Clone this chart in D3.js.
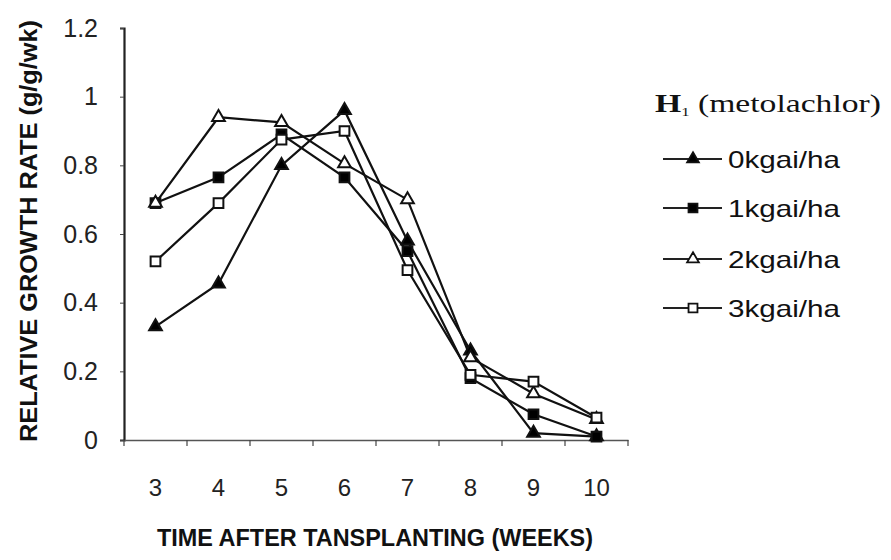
<!DOCTYPE html>
<html><head><meta charset="utf-8">
<script src="https://cdn.jsdelivr.net/npm/d3@7"></script>
<style>body{margin:0;background:#fff}svg{display:block}</style>
</head><body>
<script>
const weeks = ["3","4","5","6","7","8","9","10"];
const s0 = [0.33,0.455,0.80,0.96,0.58,0.26,0.02,0.01];   // 0kgai/ha
const s1 = [0.69,0.765,0.89,0.765,0.55,0.18,0.075,0.01]; // 1kgai/ha
const s2 = [0.69,0.94,0.925,0.805,0.70,0.24,0.135,0.06]; // 2kgai/ha
const s3 = [0.52,0.69,0.875,0.90,0.495,0.19,0.17,0.065]; // 3kgai/ha
const seriesNames = ["0kgai/ha","1kgai/ha","2kgai/ha","3kgai/ha"];
const yTicks = [0,0.2,0.4,0.6,0.8,1,1.2];

const W=891,H=560;
const svg=d3.select("body").append("svg").attr("width",W).attr("height",H);
const x=d3.scaleBand().domain(weeks).range([124,628]);
const y=d3.scaleLinear().domain([0,1.2]).range([440,28]);

const series=[
 {name:seriesNames[0],vals:s0,sym:d3.symbolTriangle,fill:"#000"},
 {name:seriesNames[1],vals:s1,sym:d3.symbolSquare,fill:"#000"},
 {name:seriesNames[2],vals:s2,sym:d3.symbolTriangle,fill:"#fff"},
 {name:seriesNames[3],vals:s3,sym:d3.symbolSquare,fill:"#fff"}
];
const FONT="Liberation Sans, Arial, sans-serif";

// y axis
const ya=svg.append("g").attr("transform",`translate(${x.range()[0]},0)`)
 .call(d3.axisLeft(y).tickValues(yTicks).tickSize(4).tickFormat(d=>d3.format("")(d)));
ya.select(".domain").attr("stroke","#222").attr("stroke-width",2.2);
ya.selectAll(".tick line").attr("stroke","#444");
ya.selectAll("text").attr("font-family",FONT).attr("font-size",25).attr("fill","#222").attr("x",-26);

// x axis
const xa=svg.append("g").attr("transform",`translate(0,${y(0)})`)
 .call(d3.axisBottom(x).tickSize(0).tickPadding(39));
xa.select(".domain").attr("stroke","#555").attr("stroke-width",1.3);
xa.selectAll("text").attr("font-family",FONT).attr("font-size",24).attr("fill","#222");
svg.append("g").selectAll("line").data(weeks.concat(["end"])).join("line")
 .attr("x1",d=>d==="end"?x.range()[1]:x(d)).attr("x2",d=>d==="end"?x.range()[1]:x(d))
 .attr("y1",y(0)).attr("y2",y(0)+6).attr("stroke","#444").attr("stroke-width",1.2);

// axis titles
svg.append("text").attr("transform",`translate(37,442) rotate(-90)`)
 .attr("font-family",FONT).attr("font-weight","bold").attr("font-size",24)
 .attr("textLength",422).attr("lengthAdjust","spacingAndGlyphs").attr("fill","#111")
 .text("RELATIVE GROWTH RATE (g/g/wk)");
svg.append("text").attr("x",157).attr("y",546)
 .attr("font-family",FONT).attr("font-weight","bold").attr("font-size",23)
 .attr("textLength",436).attr("lengthAdjust","spacingAndGlyphs").attr("fill","#111")
 .text("TIME AFTER TANSPLANTING (WEEKS)");

// lines
const line=d3.line().x((d,i)=>x(weeks[i])+x.bandwidth()/2).y(d=>y(d));
series.forEach(s=>{
 svg.append("path").datum(s.vals).attr("d",line).attr("fill","none").attr("stroke","#111").attr("stroke-width",2.2);
});
series.forEach(s=>{
 svg.append("g").selectAll("path").data(s.vals).join("path")
  .attr("transform",(d,i)=>`translate(${x(weeks[i])+x.bandwidth()/2},${y(d)})`)
  .attr("d",d3.symbol().type(s.sym).size(s.sym===d3.symbolTriangle?70:95))
  .attr("fill",s.fill).attr("stroke","#111").attr("stroke-width",2);
});

// legend
const lg=svg.append("g");
const t=lg.append("text").attr("x",655).attr("y",112).attr("font-family","Liberation Serif, Times New Roman, serif")
 .attr("font-size",26).attr("fill","#111").attr("textLength",226).attr("lengthAdjust","spacingAndGlyphs");
t.append("tspan").attr("font-weight","bold").text("H");
t.append("tspan").attr("font-size",13).attr("dy",4).text("1");
t.append("tspan").attr("dy",-4).text(" (metolachlor)");
const ly=[159,208,259,308];
series.forEach((s,i)=>{
 lg.append("line").attr("x1",663).attr("x2",722).attr("y1",ly[i]).attr("y2",ly[i]).attr("stroke","#222").attr("stroke-width",1.8);
 lg.append("path").attr("transform",`translate(693,${ly[i]})`).attr("d",d3.symbol().type(s.sym).size(s.sym===d3.symbolTriangle?60:80))
  .attr("fill",s.fill).attr("stroke","#111").attr("stroke-width",1.8);
 lg.append("text").attr("x",728).attr("y",ly[i]+9).attr("font-family",FONT)
  .attr("font-size",24).attr("fill","#111").attr("textLength",112).attr("lengthAdjust","spacingAndGlyphs").text(s.name);
});
</script>
</body></html>
